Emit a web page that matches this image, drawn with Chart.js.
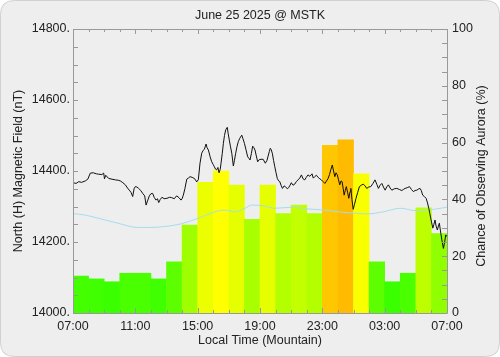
<!DOCTYPE html>
<html><head><meta charset="utf-8">
<script src="https://cdn.jsdelivr.net/npm/chart.js@4"></script>
<style>html,body{margin:0;padding:0;background:#fff;}canvas{display:block}</style>
</head><body><canvas id="c" width="500" height="357"></canvas>
<script>
// ---------- data ----------
const chartTitle = 'June 25 2025 @ MSTK';
const xTitle = 'Local Time (Mountain)';
const yTitle = 'North (H) Magnetic Field (nT)';
const y2Title = 'Chance of Observing Aurora (%)';
const xTickLabels = ['07:00','11:00','15:00','19:00','23:00','03:00','07:00']; // every 4 hours
// hourly aurora chance (%), 07:00 .. 06:00
const auroraChance = [13,12,11,14,14,12,18,31,46,50,45,33,45,35,38,35,59,61,49,18,11,14,37,28];
// magnetic field trace: hours since 07:00, nT
const magHours = [0,0.2,0.37,0.55,0.79,0.95,1.11,1.3,1.5,1.65,1.85,1.97,2.02,2.1,2.29,2.5,2.72,2.9,3.04,3.2,3.36,3.5,3.61,3.72,3.83,3.92,4.0,4.1,4.21,4.35,4.47,4.6,4.69,4.8,4.9,5.0,5.11,5.22,5.33,5.42,5.5,5.6,5.71,5.85,6.03,6.2,6.33,6.5,6.65,6.8,6.93,7.0,7.08,7.18,7.3,7.4,7.51,7.65,7.79,7.9,7.94,8.04,8.1,8.15,8.26,8.35,8.43,8.54,8.6,8.69,8.8,8.9,9.0,9.07,9.15,9.22,9.3,9.37,9.45,9.5,9.58,9.65,9.72,9.8,9.9,9.96,10.03,10.1,10.19,10.29,10.36,10.44,10.52,10.61,10.7,10.83,10.9,11.0,11.1,11.21,11.3,11.36,11.45,11.53,11.6,11.68,11.75,11.85,11.95,12.07,12.2,12.34,12.45,12.52,12.6,12.66,12.72,12.79,12.87,12.95,13.03,13.11,13.2,13.27,13.35,13.44,13.55,13.63,13.75,13.84,13.93,14.01,14.12,14.23,14.33,14.44,14.55,14.66,14.76,14.87,14.97,15.08,15.2,15.34,15.42,15.51,15.62,15.73,15.84,15.94,16.05,16.16,16.27,16.37,16.46,16.54,16.64,16.72,16.8,16.88,16.96,17.04,17.12,17.2,17.27,17.34,17.4,17.47,17.54,17.62,17.7,17.78,17.83,17.9,17.98,18.06,18.16,18.27,18.38,18.5,18.63,18.74,18.85,18.98,19.11,19.25,19.38,19.5,19.6,19.71,19.82,19.92,20.03,20.13,20.24,20.35,20.46,20.62,20.78,20.94,21.1,21.2,21.31,21.45,21.59,21.72,21.84,21.95,22.06,22.17,22.27,22.35,22.44,22.55,22.66,22.75,22.83,22.9,22.98,23.09,23.16,23.23,23.3,23.38,23.45,23.51,23.6,23.67,23.77,23.85,23.92,24.0];
const magValues = [14367,14365,14370,14368,14372,14377,14394,14395,14392,14391,14390,14394,14378,14388,14379,14377,14375,14374,14372,14367,14361,14352,14346,14340,14328,14350,14356,14355,14351,14345,14337,14330,14304,14318,14330,14336,14337,14325,14318,14322,14311,14320,14326,14322,14323,14326,14325,14322,14330,14325,14318,14322,14332,14350,14377,14380,14384,14382,14379,14372,14370,14375,14400,14422,14450,14458,14461,14476,14466,14459,14440,14426,14418,14412,14405,14403,14410,14395,14405,14422,14450,14478,14500,14516,14523,14505,14487,14470,14450,14414,14430,14450,14468,14483,14492,14501,14492,14478,14460,14440,14435,14431,14450,14470,14466,14459,14445,14426,14432,14433,14433,14422,14430,14442,14455,14464,14460,14450,14430,14412,14395,14379,14372,14370,14360,14351,14358,14356,14350,14353,14360,14367,14360,14363,14370,14375,14380,14389,14378,14375,14382,14389,14385,14392,14380,14384,14388,14382,14378,14375,14370,14365,14372,14379,14390,14403,14417,14400,14384,14395,14389,14375,14361,14372,14370,14350,14332,14345,14356,14340,14323,14342,14351,14320,14292,14305,14323,14340,14356,14360,14363,14358,14351,14355,14356,14365,14375,14362,14351,14360,14365,14355,14346,14355,14361,14352,14346,14350,14351,14348,14345,14348,14351,14353,14356,14348,14342,14345,14346,14349,14351,14345,14332,14328,14323,14310,14295,14280,14262,14239,14250,14262,14245,14234,14245,14253,14225,14206,14182,14200,14220,14215];
// quiet-day baseline
const baseHours = [0,0.75,1.8,2.87,4.15,5.0,5.95,6.93,8.04,9.11,9.75,10.4,11.04,11.47,12.2,12.95,14.01,15.08,16.16,17.23,18.17,18.85,19.92,20.99,22.06,23.13,24];
const baseValues = [14280,14276,14265,14253,14241,14241,14244,14251,14267,14285,14290,14285,14295,14304,14302,14295,14298,14293,14290,14284,14281,14279,14285,14295,14288,14292,14298];

// ---------- styling helpers ----------
const FONT = "'Liberation Sans', Arial, sans-serif";
const TXT = '#222';
const AXIS = '#999';
function barColor(v){
  if(v<=50){
    const r=Math.round(Math.max(0,Math.min(255,68+(v-13)*187/37)));
    return `rgb(${r},255,0)`;
  }
  const g=Math.round(Math.max(0,255-(v-50)*6.2));
  return `rgb(255,${g},0)`;
}

const barData = auroraChance.map((v,i)=>({x:i+0.5,y:v}));
const magData = magHours.map((h,i)=>({x:h,y:magValues[i]}));
const baseData = baseHours.map((h,i)=>({x:h,y:baseValues[i]}));

function roundRect(ctx,x,y,w,h,r){
  ctx.beginPath();
  ctx.moveTo(x+r,y);ctx.lineTo(x+w-r,y);ctx.quadraticCurveTo(x+w,y,x+w,y+r);
  ctx.lineTo(x+w,y+h-r);ctx.quadraticCurveTo(x+w,y+h,x+w-r,y+h);
  ctx.lineTo(x+r,y+h);ctx.quadraticCurveTo(x,y+h,x,y+h-r);
  ctx.lineTo(x,y+r);ctx.quadraticCurveTo(x,y,x+r,y);ctx.closePath();
}

const decor = {
  id:'decor',
  beforeDraw(chart){
    const ctx=chart.ctx;
    ctx.save();
    ctx.fillStyle='#fff';ctx.fillRect(0,0,chart.width,chart.height);
    roundRect(ctx,0.5,0.5,chart.width-1,chart.height-1,14);
    ctx.fillStyle='#eeeeee';ctx.fill();
    ctx.strokeStyle='#d0d0d0';ctx.lineWidth=1;ctx.stroke();
    ctx.restore();
  },
  afterDatasetsDraw(chart){
    const ctx=chart.ctx, a=chart.chartArea, sx=chart.scales.x, sy=chart.scales.y, sy2=chart.scales.y2;
    ctx.save();
    ctx.strokeStyle=AXIS;ctx.lineWidth=1;
    ctx.beginPath();
    for(let h=0;h<=24;h++){
      const px=Math.round(sx.getPixelForValue(h))+0.5;
      const len=(h%4===0)?5:3;
      ctx.moveTo(px,a.top);ctx.lineTo(px,a.top+len);
      ctx.moveTo(px,a.bottom);ctx.lineTo(px,a.bottom-len);
    }
    for(let v=14000;v<=14800;v+=50){
      const py=Math.round(sy.getPixelForValue(v))+0.5;
      ctx.moveTo(a.left,py);ctx.lineTo(a.left+5,py);
    }
    for(let v=0;v<=100;v+=5){
      const py=Math.round(sy2.getPixelForValue(v))+0.5;
      ctx.moveTo(a.right,py);ctx.lineTo(a.right-5,py);
    }
    ctx.stroke();
    ctx.beginPath();
    ctx.rect(Math.round(a.left)+0.5,Math.round(a.top)+0.5,Math.round(a.right-a.left),Math.round(a.bottom-a.top));
    ctx.stroke();
    ctx.restore();
  },
  afterDraw(chart){
    const ctx=chart.ctx, a=chart.chartArea;
    const cx=(a.left+a.right)/2;
    ctx.save();
    ctx.fillStyle=TXT;ctx.font='12.5px '+FONT;
    ctx.textAlign='center';ctx.textBaseline='middle';
    ctx.fillText(chartTitle,cx,16);
    ctx.fillText(xTitle,cx,341);
    ctx.save();ctx.translate(19,171);ctx.rotate(-Math.PI/2);ctx.fillText(yTitle,0,0);ctx.restore();
    ctx.save();ctx.translate(482,176);ctx.rotate(-Math.PI/2);ctx.fillText(y2Title,0,0);ctx.restore();
    ctx.restore();
  }
};

const tickFont={family:FONT,size:12.5};
const noGrid={display:false,drawTicks:false,tickLength:0,offset:false};
new Chart(document.getElementById('c'),{
  data:{datasets:[
    {type:'line',label:'H',data:magData,yAxisID:'y',borderColor:'#111',borderWidth:1,pointRadius:0,tension:0,order:1},
    {type:'line',label:'baseline',data:baseData,yAxisID:'y',borderColor:'#a6dcef',borderWidth:1,pointRadius:0,cubicInterpolationMode:'monotone',order:2},
    {type:'bar',label:'aurora',data:barData,yAxisID:'y2',backgroundColor:auroraChance.map(barColor),borderWidth:0,barPercentage:1,categoryPercentage:1,order:3}
  ]},
  options:{
    responsive:false,animation:false,devicePixelRatio:1,
    layout:{padding:{top:29,left:0,right:0,bottom:0}},
    plugins:{legend:{display:false},tooltip:{enabled:false},title:{display:false}},
    scales:{
      x:{type:'linear',min:0,max:24,position:'bottom',offset:false,
        grid:noGrid,border:{display:false},
        ticks:{stepSize:1,autoSkip:false,maxRotation:0,padding:6,color:TXT,font:tickFont,
          callback:(v)=> (v%4===0)? xTickLabels[v/4] : ''},
        afterFit(s){s.height=44;}},
      y:{type:'linear',position:'left',min:14000,max:14800,
        grid:noGrid,border:{display:false},
        ticks:{stepSize:200,padding:3,color:TXT,font:tickFont,callback:(v)=>v+'.'},
        afterFit(s){s.width=73;}},
      y2:{type:'linear',position:'right',min:0,max:100,
        grid:noGrid,border:{display:false},
        ticks:{stepSize:20,padding:5,color:TXT,font:tickFont},
        afterFit(s){s.width=53;}}
    }
  },
  plugins:[decor]
});
</script></body></html>
